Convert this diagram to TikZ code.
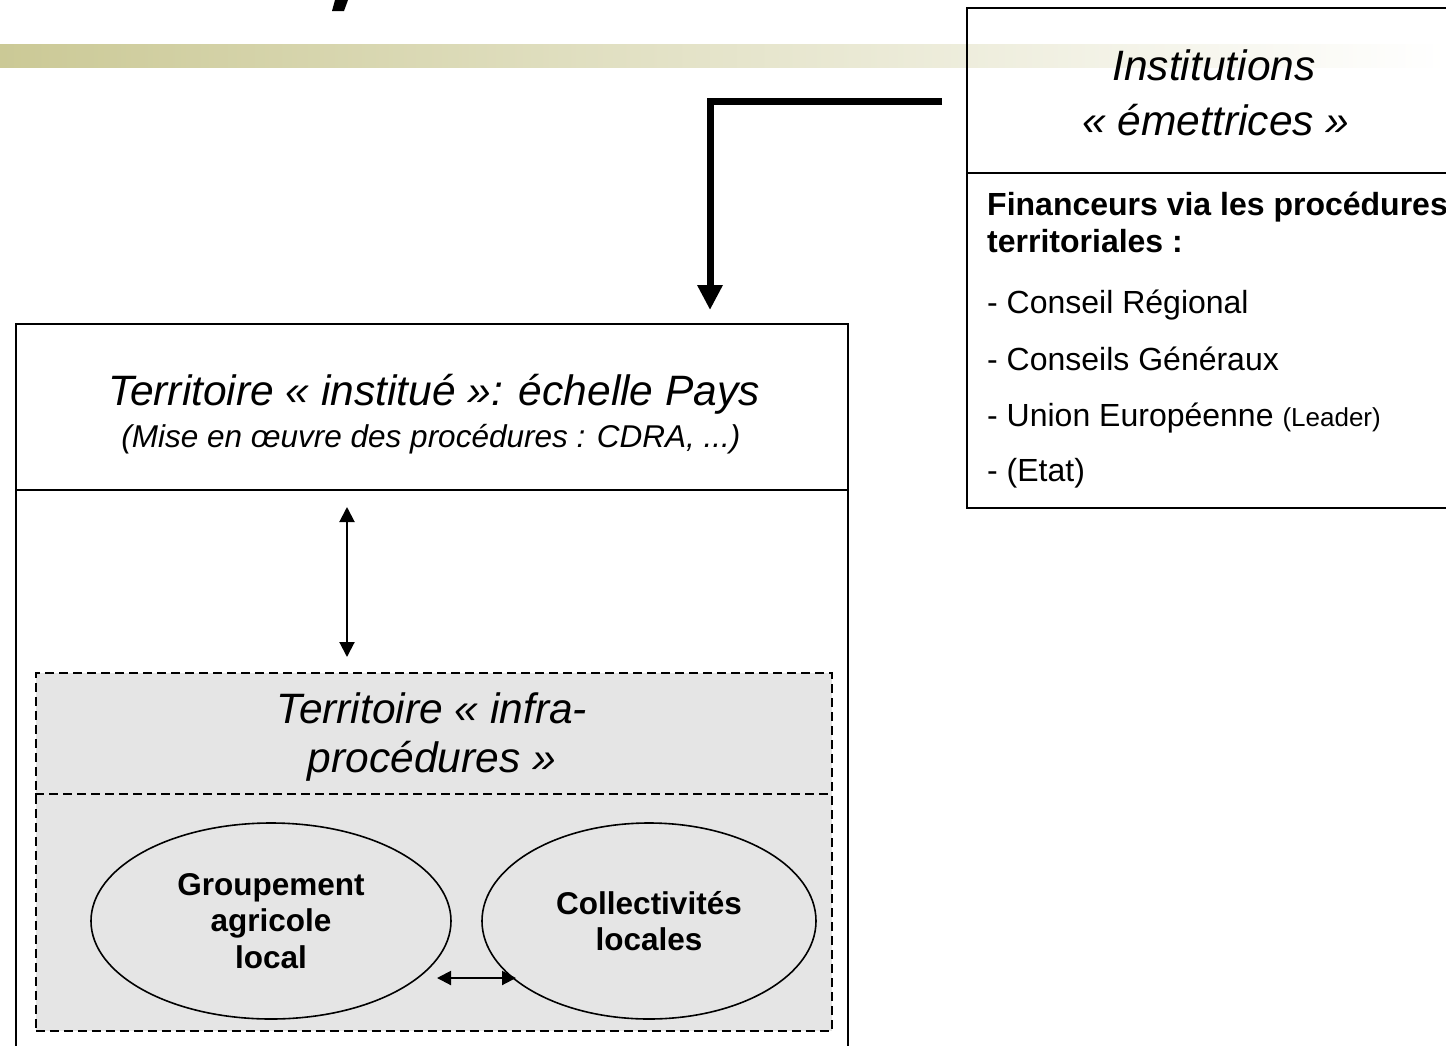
\documentclass[tikz,border=0pt]{standalone}
\usepackage{fontspec}
\setmainfont{Liberation Sans}
\usetikzlibrary{arrows.meta,shapes.geometric}
\definecolor{barL}{HTML}{CBC996}
\begin{document}
\begin{tikzpicture}[x=1pt,y=-1pt,
  box/.style={draw, line width=2pt, rectangle, inner sep=0pt, anchor=north west},
  dbox/.style={draw, line width=1.8pt, dash pattern=on 9pt off 5pt, fill=gray!20, rectangle, inner sep=0pt, anchor=north west},
  dline/.style={line width=1.8pt, dash pattern=on 9pt off 5pt},
  tline/.style={line width=2pt},
  big/.style={font=\fontsize{42.5}{50}\selectfont\itshape, anchor=base, inner sep=0pt},
  mid/.style={font=\fontsize{31.5}{38}\selectfont\itshape, anchor=base, inner sep=0pt},
  lst/.style={font=\fontsize{32}{38}\selectfont, anchor=base west, inner sep=0pt},
  lstb/.style={font=\fontsize{32}{38}\selectfont\bfseries, anchor=base west, inner sep=0pt},
  ell/.style={draw, ellipse, line width=1.6pt, inner sep=0pt, align=center, font=\fontsize{31.5}{36.5}\selectfont\bfseries},
  bigarrow/.style={line width=7pt, -{Triangle[length=25pt,width=24pt]}},
  darrow/.style={line width=2pt, {Triangle[length=15pt,width=15pt]}-{Triangle[length=15pt,width=15pt]}},
  sarrow/.style={line width=2pt, {Triangle[length=14pt,width=14pt]}-{Triangle[length=14pt,width=14pt]}},
]
\useasboundingbox (0,0) rectangle (1446,1045);
\clip (0,0) rectangle (1446,1045);
\fill[white] (0,0) rectangle (1446,1045);
% decorative header bar and cut-off title glyph
\shade[left color=barL, right color=white] (0,44) rectangle (1446,67);
\fill (335,0) -- (348,0) -- (344,11) -- (332,11) -- cycle;

% boxes
\node[box, minimum width=496pt, minimum height=500pt] (inst) at (966,7) {};
\draw[tline] ([yshift=-166pt]inst.north west) -- ([yshift=-166pt]inst.north east);
\node[box, minimum width=832pt, minimum height=750pt] (pays) at (15,323) {};
\draw[tline] ([yshift=-167pt]pays.north west) -- ([yshift=-167pt]pays.north east);
\node[dbox, minimum width=796pt, minimum height=358pt] (infra) at (35,672) {};
\draw[dline] ([yshift=-122pt]infra.north west) -- ([yshift=-122pt]infra.north east);

% texts
\node[big] (instA) at (1214,80) {Institutions};
\node[big] (instB) at (1216,135) {« émettrices »};
\node[lstb] (fin1) at (987,215) {Financeurs via les procédures};
\node[lstb] (fin2) at (987,252) {territoriales :};
\node[lst] (l1) at (987,313) {- Conseil Régional};
\node[lst] (l2) at (987,370) {- Conseils Généraux};
\node[lst] (l3) at (987,426) {- Union Européenne {\fontsize{26}{30}\selectfont(Leader)}};
\node[lst] (l4) at (987,481) {- (Etat)};

\node[big] (paysA) at (434,405) {Territoire « institué »: échelle Pays};
\node[mid] (paysB) at (431,447) {(Mise en œuvre des procédures : CDRA, ...)};
\node[big] (infA) at (432,723) {Territoire « infra-};
\node[big] (infB) at (432,772) {procédures »};

% ellipses
\node[ell, minimum width=360pt, minimum height=196pt] (grp) at (271,921) {Groupement\\agricole\\local};
\node[ell, minimum width=334pt, minimum height=196pt] (col) at (649,921) {Collectivités\\locales};

% connectors
\coordinate (astart) at ([xshift=-24pt,yshift=-94pt]inst.north west);
\draw[bigarrow] (astart) -| ([xshift=695pt,yshift=13pt]pays.north west);
\draw[darrow] ([xshift=332pt,yshift=-184pt]pays.north west) -- ([xshift=312pt,yshift=15pt]infra.north west);
\draw[sarrow] ([xshift=166pt,yshift=-57pt]grp.center) -- ([xshift=-133pt,yshift=-57pt]col.center);
\end{tikzpicture}
\end{document}
